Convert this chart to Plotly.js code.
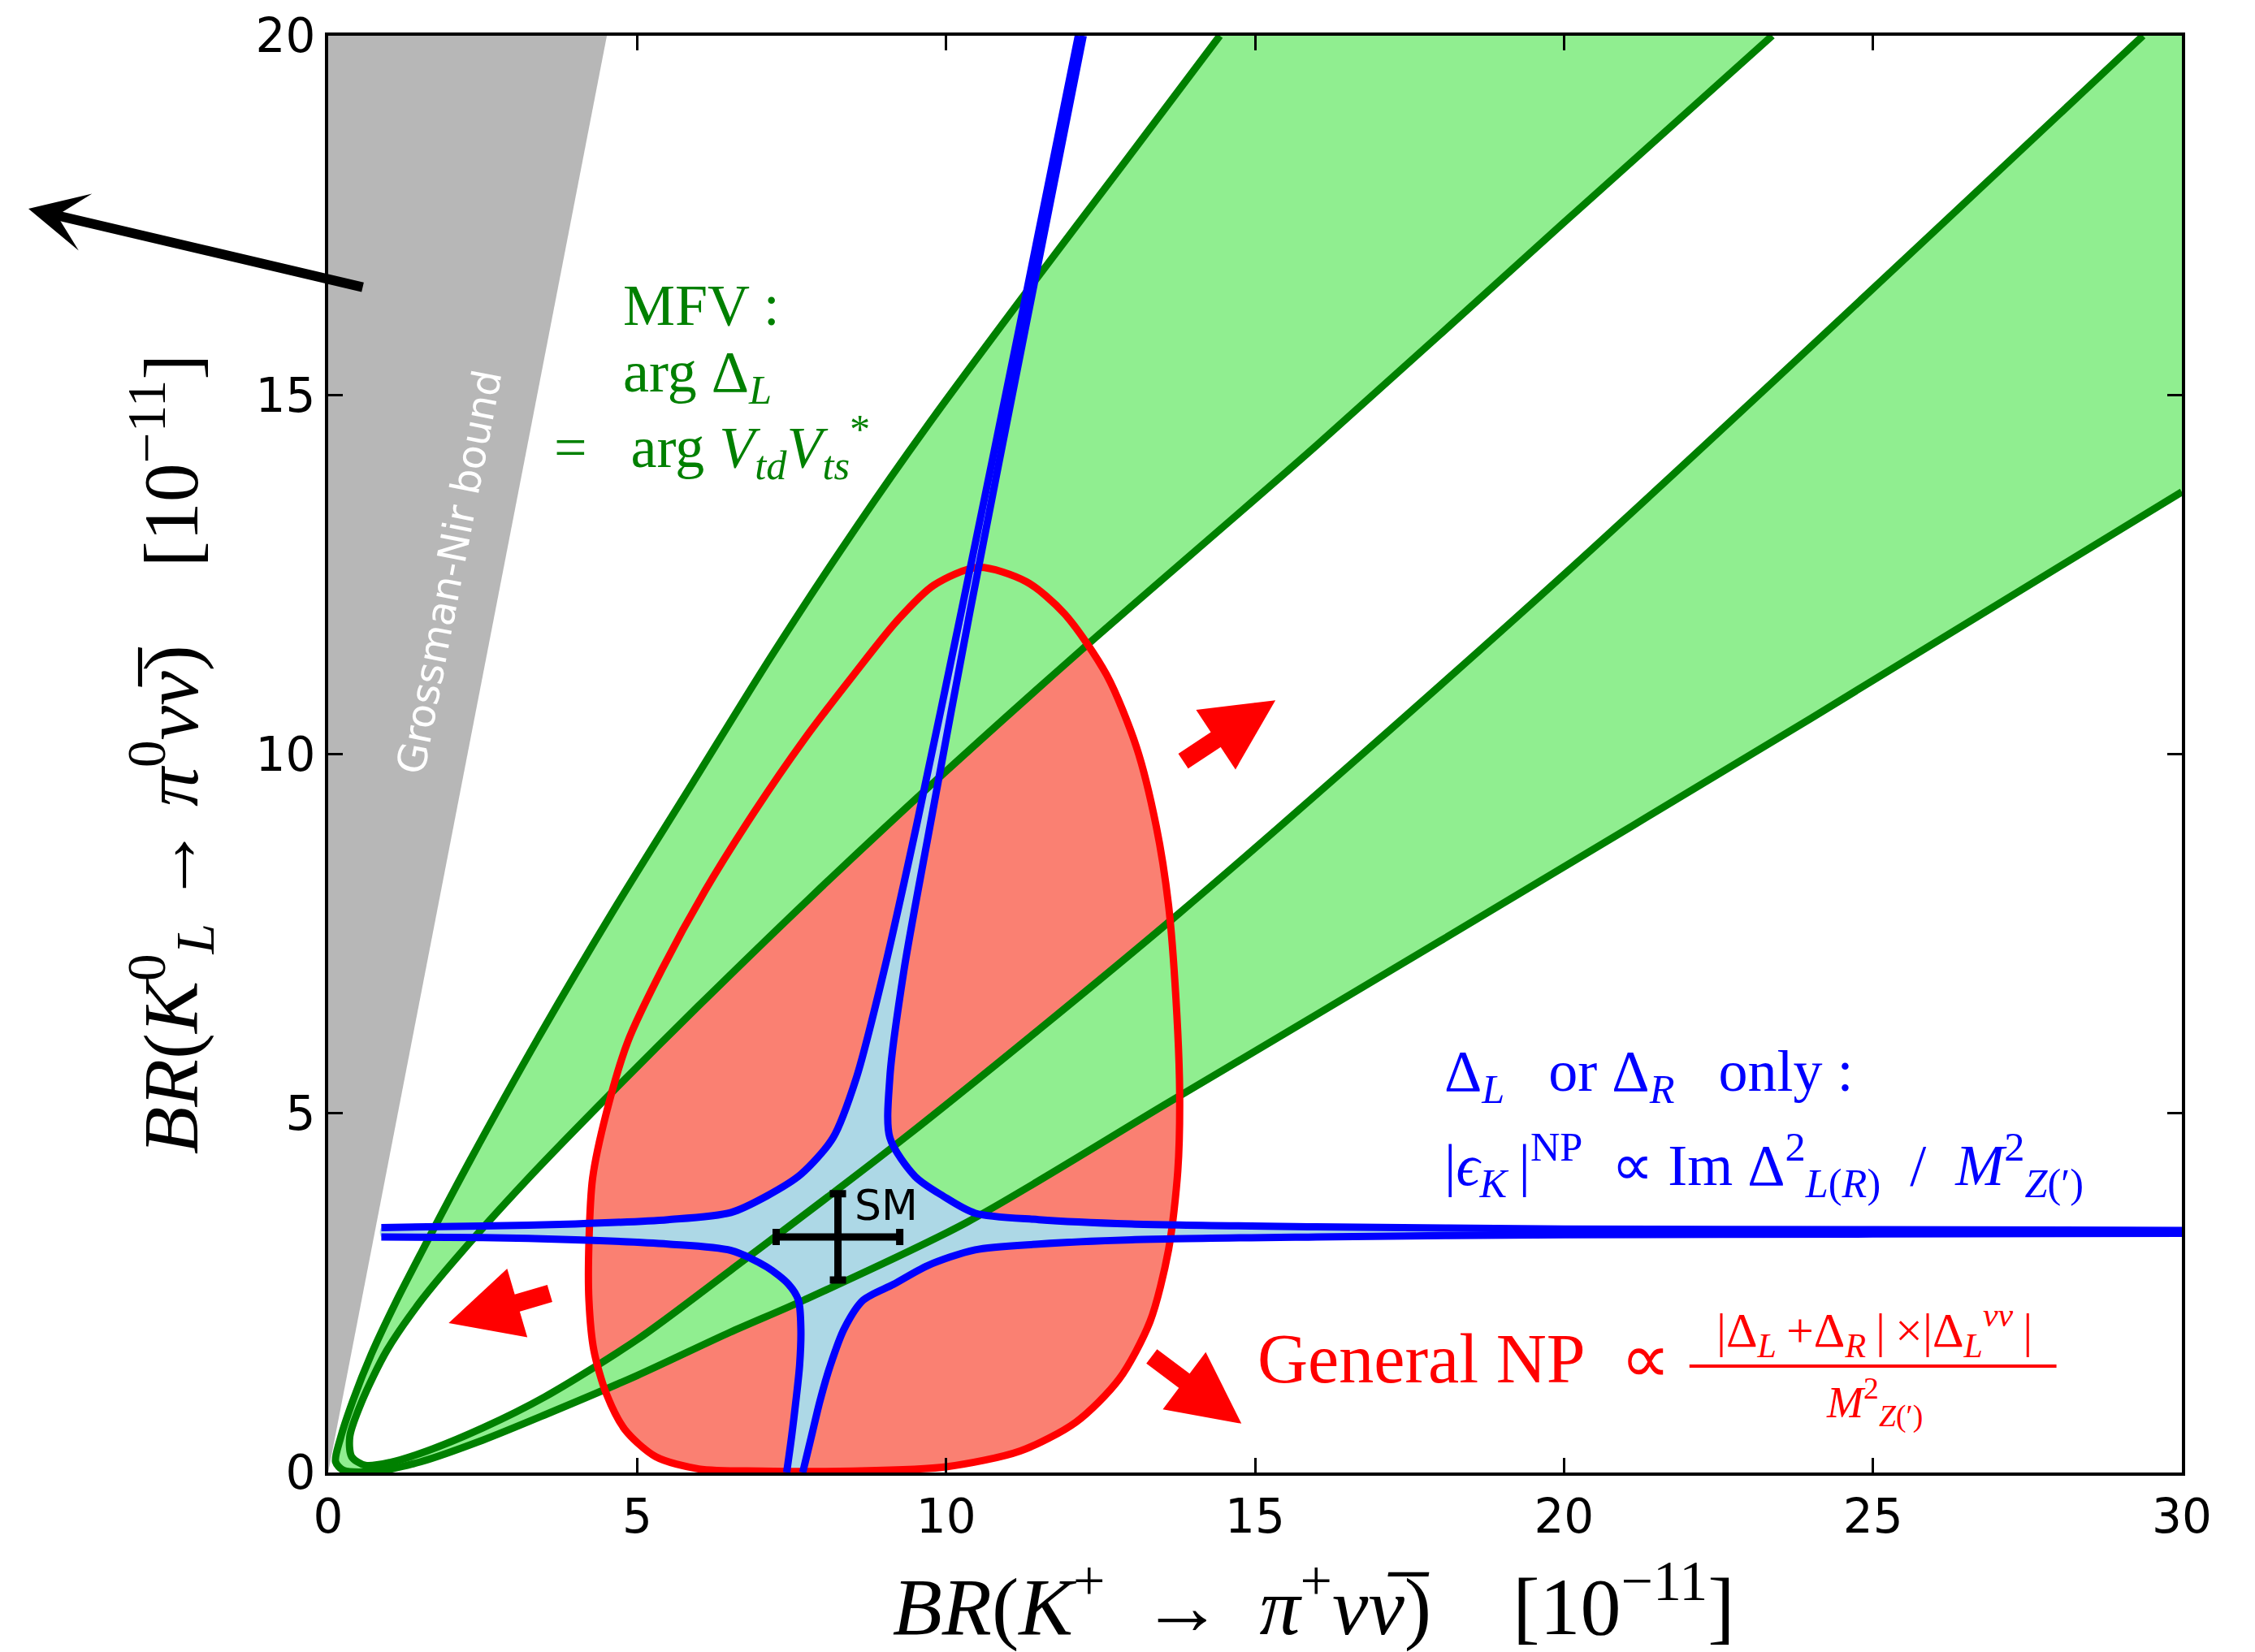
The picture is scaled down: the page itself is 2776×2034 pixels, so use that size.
<!DOCTYPE html>
<html><head><meta charset="utf-8">
<script src="https://cdn.plot.ly/plotly-3.0.1.min.js"></script>
<style>html,body{margin:0;padding:0;background:#fff;}</style>
</head><body>
<div id="chart" style="width:2776px;height:2034px;"></div>
<script>
// ---------- data ----------
const xTicks = [0, 5, 10, 15, 20, 25, 30];
const yTicks = [0, 5, 10, 15, 20];

// Grossman-Nir excluded wedge
const gnX = [0, 4.51, 0];
const gnY = [0, 20, 20];

// general NP contour (red)
const redX = [10.52, 11.3, 11.92, 12.6, 13.08, 13.4, 13.6, 13.72, 13.78, 13.75, 13.6, 13.3, 12.8, 12.1, 11.2, 10.0, 8.5, 7.0, 6.0, 5.3, 4.8, 4.5, 4.3, 4.22, 4.22, 4.28, 4.5, 4.85, 5.4, 6.1, 6.9, 7.7, 8.5, 9.2, 9.8, 10.52];
const redY = [12.6, 12.4, 11.95, 11.1, 10.1, 9.0, 7.9, 6.6, 5.3, 4.2, 3.1, 2.1, 1.3, 0.7, 0.3, 0.08, 0.02, 0.02, 0.05, 0.22, 0.6, 1.1, 1.7, 2.4, 3.2, 4.1, 5.0, 6.0, 7.0, 8.1, 9.2, 10.2, 11.1, 11.85, 12.35, 12.6];

// MFV band: outer boundary (upper-left line, round the origin, lower-right line)
const outerX = [14.43, 12.9, 11.36, 9.68, 8.58, 7.2, 5.9, 4.6, 3.4, 2.3, 1.5, 1.1, 0.7, 0.4, 0.2, 0.12, 0.25, 0.8, 1.5, 2.5, 3.5, 5.0, 6.5, 7.7, 10.33, 13.6, 18, 24, 30];
const outerY = [20, 18.25, 16.5, 14.55, 13.2, 11.4, 9.6, 7.8, 6.05, 4.35, 3.05, 2.38, 1.65, 1.0, 0.48, 0.15, 0.03, 0.02, 0.15, 0.45, 0.8, 1.35, 1.95, 2.4, 3.48, 5.15, 7.4, 10.5, 13.65];
// MFV band: inner boundary
const innerX = [23.37, 20, 16, 12.19, 9.73, 7.8, 6.0, 4.6, 3.3, 2.18, 1.52, 0.95, 0.55, 0.35, 0.38, 0.6, 1.0, 1.6, 2.5, 3.5, 5.0, 6.52, 9.33, 13.78, 20, 29.37];
const innerY = [20, 17.4, 14.3, 11.45, 9.55, 8.0, 6.5, 5.3, 4.15, 3.09, 2.41, 1.7, 1.0, 0.5, 0.22, 0.1, 0.14, 0.3, 0.62, 1.05, 1.85, 2.82, 4.66, 7.79, 12.5, 20];

// Delta_L or Delta_R only (blue), four arcs
const ulX = [12.14, 11.20, 10.25, 9.52, 9.00, 8.55, 8.17, 7.65, 7.1, 6.52, 5.5, 4.0, 2.5, 0.86];
const ulY = [20, 16, 12, 9, 7, 5.5, 4.66, 4.15, 3.85, 3.62, 3.52, 3.46, 3.43, 3.41];
const urX = [12.22, 11.30, 10.39, 9.74, 9.32, 9.09, 9.09, 9.5, 9.95, 10.47, 11.5, 13, 16, 20, 25, 30];
const urY = [20, 16, 12, 9, 7, 5.5, 4.66, 4.12, 3.85, 3.61, 3.52, 3.46, 3.42, 3.39, 3.38, 3.37];
const llX = [0.86, 2.5, 4.0, 5.5, 6.52, 7.1, 7.45, 7.61, 7.65, 7.63, 7.57, 7.50, 7.42];
const llY = [3.28, 3.27, 3.24, 3.18, 3.09, 2.86, 2.62, 2.40, 2.0, 1.5, 1.0, 0.5, 0];
const lrX = [30, 25, 20, 16, 13, 11.5, 10.47, 9.7, 9.15, 8.66, 8.35, 8.13, 7.96, 7.82, 7.68];
const lrY = [3.33, 3.32, 3.31, 3.28, 3.24, 3.18, 3.10, 2.88, 2.62, 2.40, 2.0, 1.5, 1.0, 0.5, 0];

// Standard Model point
const smX = [8.25];
const smY = [3.28];
const smErrX = [1.0];
const smErrY = [0.6];

// ---------- build polygons from the arrays ----------
const rev = a => a.slice().reverse();
const bandX = outerX.concat([30], rev(innerX));
const bandY = outerY.concat([20], rev(innerY));
const starX = ulX.concat(llX, rev(lrX), rev(urX));
const starY = ulY.concat(llY, rev(lrY), rev(urY));

const LW = 9;
const sp = {shape: 'spline', smoothing: 0.8};
const traces = [
  {x: gnX, y: gnY, mode: 'lines', fill: 'toself', fillcolor: '#b7b7b7', line: {width: 0}, hoverinfo: 'skip'},
  {x: redX, y: redY, mode: 'lines', fill: 'toself', fillcolor: '#fa8072', line: Object.assign({width: 0}, sp), hoverinfo: 'skip'},
  {x: bandX, y: bandY, mode: 'lines', fill: 'toself', fillcolor: '#90ee90', line: {width: 0}, hoverinfo: 'skip'},
  {x: starX, y: starY, mode: 'lines', fill: 'toself', fillcolor: '#add8e6', line: Object.assign({width: 0}, sp), hoverinfo: 'skip'},
  {x: outerX, y: outerY, mode: 'lines', line: Object.assign({color: '#008000', width: LW}, sp)},
  {x: innerX, y: innerY, mode: 'lines', line: Object.assign({color: '#008000', width: LW}, sp)},
  {x: redX, y: redY, mode: 'lines', line: Object.assign({color: '#ff0000', width: LW}, sp)},
  {x: ulX, y: ulY, mode: 'lines', line: Object.assign({color: '#0000ff', width: LW}, sp)},
  {x: urX, y: urY, mode: 'lines', line: Object.assign({color: '#0000ff', width: LW}, sp)},
  {x: llX, y: llY, mode: 'lines', line: Object.assign({color: '#0000ff', width: LW}, sp)},
  {x: lrX, y: lrY, mode: 'lines', line: Object.assign({color: '#0000ff', width: LW}, sp)},
  {x: smX, y: smY, mode: 'markers', marker: {size: 2, color: 'black'},
   error_x: {type: 'data', array: smErrX, color: 'black', thickness: 9, width: 10},
   error_y: {type: 'data', array: smErrY, color: 'black', thickness: 9, width: 10}}
];

const serif = 'Liberation Serif, Times New Roman, serif';
const green = '#008000', blue = '#0000ff', red = '#ff0000';
function txt(x, y, text, size, color, extra) {
  return Object.assign({x: x, y: y, xref: 'x', yref: 'y', text: text, showarrow: false,
    xanchor: 'left', yanchor: 'middle', font: {family: serif, size: size, color: color}}, extra || {});
}
const annotations = [
  txt(4.75, 16.25, 'MFV :', 72, green),
  txt(4.75, 15.26, 'arg Δ<sub><i>L</i></sub>', 72, green),
  txt(3.63, 14.27, '=\u2002 arg <i>V</i><sub><i>td</i></sub><i>V</i><sub><i>ts</i></sub><sup>*</sup>', 72, green),
  txt(18.04, 5.53, 'Δ<sub><i>L</i></sub>\u2002 or Δ<sub><i>R</i></sub>\u2002 only :', 72, blue),
  txt(18.04, 4.28, '|<i>ϵ</i><sub><i>K</i></sub>\u2009|<sup>NP</sup>\u2002∝ Im Δ<sup>2</sup><sub><i>L</i>(<i>R</i>)</sub>\u2002/\u2002<i>M</i><sup>2</sup><sub><i>Z</i>(′)</sub>', 72, blue),
  txt(15.01, 1.58, 'General NP\u2002∝', 86, red),
  txt(25.03, 1.98, '|Δ<sub><i>L</i></sub>\u2009+Δ<sub><i>R</i></sub>\u2009|\u2009×|Δ<sub><i>L</i></sub><sup><i>νν</i></sup>\u2009|', 60, red, {xanchor: 'center'}),
  txt(25.03, 0.98, '<i>M</i><sup>2</sup><sub><i>Z</i>(′)</sub>', 54, red, {xanchor: 'center'}),
  txt(8.49, 3.72, 'SM', 52, 'black', {font: {family: 'DejaVu Sans', size: 52, color: 'black'}}),
  txt(1.97, 12.54, 'Grossman-Nir bound', 49, 'white', {xanchor: 'center', textangle: -79, font: {family: 'DejaVu Sans', size: 49, color: 'white'}}),
  // arrows
  {x: -0.1617, y: 0.8796, xref: 'paper', yref: 'paper', ax: 413, ay: 97, text: '', showarrow: true,
   arrowhead: 3, arrowsize: 1.0, arrowwidth: 12, arrowcolor: 'black', standoff: 0},
  {x: 15.33, y: 10.75, xref: 'x', yref: 'y', ax: -115, ay: 76, text: '', showarrow: true,
   arrowhead: 2, arrowsize: 0.8, arrowwidth: 22, arrowcolor: red, standoff: 0},
  {x: 1.95, y: 2.08, xref: 'x', yref: 'y', ax: 126, ay: -37, text: '', showarrow: true,
   arrowhead: 2, arrowsize: 0.8, arrowwidth: 22, arrowcolor: red, standoff: 0},
  {x: 14.78, y: 0.68, xref: 'x', yref: 'y', ax: -112, ay: -84, text: '', showarrow: true,
   arrowhead: 2, arrowsize: 0.8, arrowwidth: 22, arrowcolor: red, standoff: 0}
];

const shapes = [
  {type: 'line', xref: 'x', yref: 'y', x0: 22.03, x1: 27.97, y0: 1.48, y1: 1.48, line: {color: red, width: 4}}
];

const axisCommon = {
  ticks: 'inside', ticklen: 18, tickwidth: 3, tickcolor: 'black',
  showline: true, linewidth: 4, linecolor: 'black', mirror: 'ticks',
  showgrid: false, zeroline: false, automargin: false,
  tickfont: {family: 'DejaVu Sans', size: 58, color: 'black'}
};

const layout = {
  width: 2776, height: 2034,
  margin: {l: 404, r: 90, t: 44, b: 221, pad: 0},
  paper_bgcolor: 'white', plot_bgcolor: 'white',
  showlegend: false,
  xaxis: Object.assign({}, axisCommon, {
    range: [0, 30], tickvals: xTicks,
    title: {text: '<span style="color:white">NN</span><i>BR</i>(<i>K</i><sup>+</sup>\u2009 →\u2009 <i>π</i><sup>+</sup><i>ν</i><i>ν\u0305</i>)\u2003[10<sup>−11</sup>]',
            font: {family: serif, size: 100, color: 'black'}, standoff: 52}
  }),
  yaxis: Object.assign({}, axisCommon, {
    range: [0, 20], tickvals: yTicks,
    title: {text: '<i>BR</i>(<i>K</i><sup>0</sup><sub><i>L</i></sub> → <i>π</i><sup>0</sup><i>ν</i><i>ν\u0305</i>)\u2003[10<sup>−11</sup>]',
            font: {family: serif, size: 96, color: 'black'}, standoff: 40}
  }),
  annotations: annotations,
  shapes: shapes
};

Plotly.newPlot('chart', traces, layout, {displayModeBar: false, staticPlot: true});
</script>
</body></html>
